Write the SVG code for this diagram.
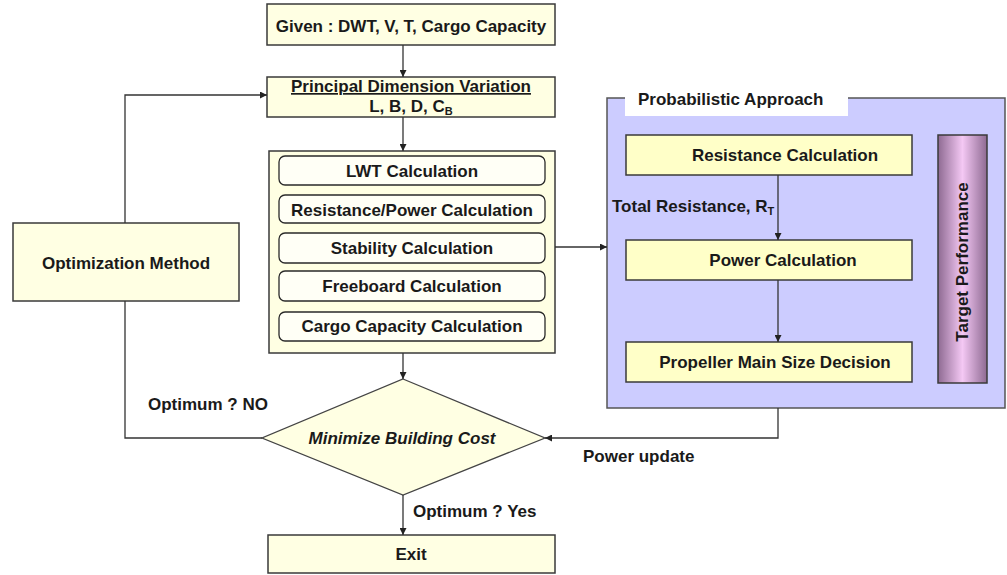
<svg xmlns="http://www.w3.org/2000/svg" width="1007" height="575" viewBox="0 0 1007 575">
<defs>
<style>
.t{font-family:"Liberation Sans",Arial,sans-serif;font-size:17px;font-weight:bold;fill:#1a1a1a}
.m{text-anchor:middle}
.box{fill:#FFFFE3;stroke:#3a3a3a;stroke-width:1.5}
.ybox{fill:#FFFFC8;stroke:#3a3a3a;stroke-width:1.5}
.rbox{fill:#FFFFF6;stroke:#2a2a2a;stroke-width:1.3}
.ln{fill:none;stroke:#333;stroke-width:1.3}
</style>
<marker id="ah" viewBox="0 0 10 10" refX="10" refY="5" markerWidth="7" markerHeight="7" orient="auto" markerUnits="userSpaceOnUse">
<path d="M0,0 L10,5 L0,10 z" fill="#222"/>
</marker>
<linearGradient id="tp" x1="0" y1="0" x2="1" y2="0">
<stop offset="0" stop-color="#8e6a92"/>
<stop offset="0.5" stop-color="#f4c8f4"/>
<stop offset="1" stop-color="#8e6a92"/>
</linearGradient>
</defs>

<g id="probabilistic">
<rect x="607" y="98" width="398" height="310" fill="#CCCCFF" stroke="#555" stroke-width="1.5"/>
<rect x="625" y="86" width="223" height="30" fill="#fff"/>
<text class="t" x="638" y="105">Probabilistic Approach</text>
</g>

<g id="given">
<rect class="box" x="267" y="4" width="288" height="41"/>
<text class="t m" x="411" y="32">Given : DWT, V, T, Cargo Capacity</text>
</g>

<g id="principal">
<rect class="box" x="267" y="77" width="288" height="40"/>
<text class="t m" x="411" y="92" text-decoration="underline">Principal Dimension Variation</text>
<text class="t m" x="411" y="112">L, B, D, C<tspan font-size="11" dy="3">B</tspan></text>
</g>

<g id="calcs">
<rect class="box" x="269" y="151" width="286" height="202"/>
<g id="lwt"><rect class="rbox" x="279" y="156" width="266" height="29" rx="6"/><text class="t m" x="412" y="177">LWT Calculation</text></g>
<g id="respower"><rect class="rbox" x="279" y="195" width="266" height="28" rx="6"/><text class="t m" x="412" y="216">Resistance/Power Calculation</text></g>
<g id="stability"><rect class="rbox" x="279" y="233" width="266" height="30" rx="6"/><text class="t m" x="412" y="254">Stability Calculation</text></g>
<g id="freeboard"><rect class="rbox" x="279" y="271" width="266" height="30" rx="6"/><text class="t m" x="412" y="292">Freeboard Calculation</text></g>
<g id="cargo"><rect class="rbox" x="279" y="312" width="266" height="29" rx="6"/><text class="t m" x="412" y="332">Cargo Capacity Calculation</text></g>
</g>

<g id="optimization">
<rect class="box" x="13" y="223" width="226" height="78"/>
<text class="t m" x="126" y="269">Optimization Method</text>
</g>

<g id="resistance">
<rect class="ybox" x="626" y="135" width="286" height="40"/>
<text class="t m" x="785" y="161">Resistance Calculation</text>
</g>

<g id="power">
<rect class="ybox" x="626" y="240" width="286" height="40"/>
<text class="t m" x="783" y="266">Power Calculation</text>
</g>

<g id="propeller">
<rect class="ybox" x="626" y="342" width="286" height="40"/>
<text class="t m" x="775" y="368">Propeller Main Size Decision</text>
</g>

<g id="target">
<rect x="938" y="135" width="49" height="248" fill="url(#tp)" stroke="#3a3a3a" stroke-width="1.5"/>
<text class="t m" transform="translate(968,262) rotate(-90)">Target Performance</text>
</g>

<g id="decision">
<polygon points="403,379 545,438 403,495 262,438" fill="#FFFFE3" stroke="#444" stroke-width="1.3"/>
<text class="t m" x="402" y="444" font-style="italic">Minimize Building Cost</text>
</g>

<g id="exit">
<rect class="box" x="268" y="535" width="287" height="38"/>
<text class="t m" x="411" y="560">Exit</text>
</g>

<g id="connectors">
<line class="ln" x1="403" y1="45" x2="403" y2="77" marker-end="url(#ah)"/>
<line class="ln" x1="403" y1="117" x2="403" y2="151" marker-end="url(#ah)"/>
<line class="ln" x1="403" y1="353" x2="403" y2="379" marker-end="url(#ah)"/>
<line class="ln" x1="403" y1="495" x2="403" y2="535" marker-end="url(#ah)"/>
<line class="ln" x1="555" y1="247" x2="607" y2="247" marker-end="url(#ah)"/>
<line class="ln" x1="778" y1="175" x2="778" y2="240" marker-end="url(#ah)"/>
<line class="ln" x1="778" y1="280" x2="778" y2="342" marker-end="url(#ah)"/>
<polyline class="ln" points="778,408 778,438 545,438" marker-end="url(#ah)"/>
<polyline class="ln" points="262,438 125,438 125,301"/>
<polyline class="ln" points="125,223 125,95 267,95" marker-end="url(#ah)"/>
<text class="t" x="612" y="212">Total Resistance, R<tspan font-size="11" dy="3">T</tspan></text>
<text class="t" x="148" y="410">Optimum ? NO</text>
<text class="t" x="583" y="462">Power update</text>
<text class="t" x="413" y="517">Optimum ? Yes</text>
</g>
</svg>
